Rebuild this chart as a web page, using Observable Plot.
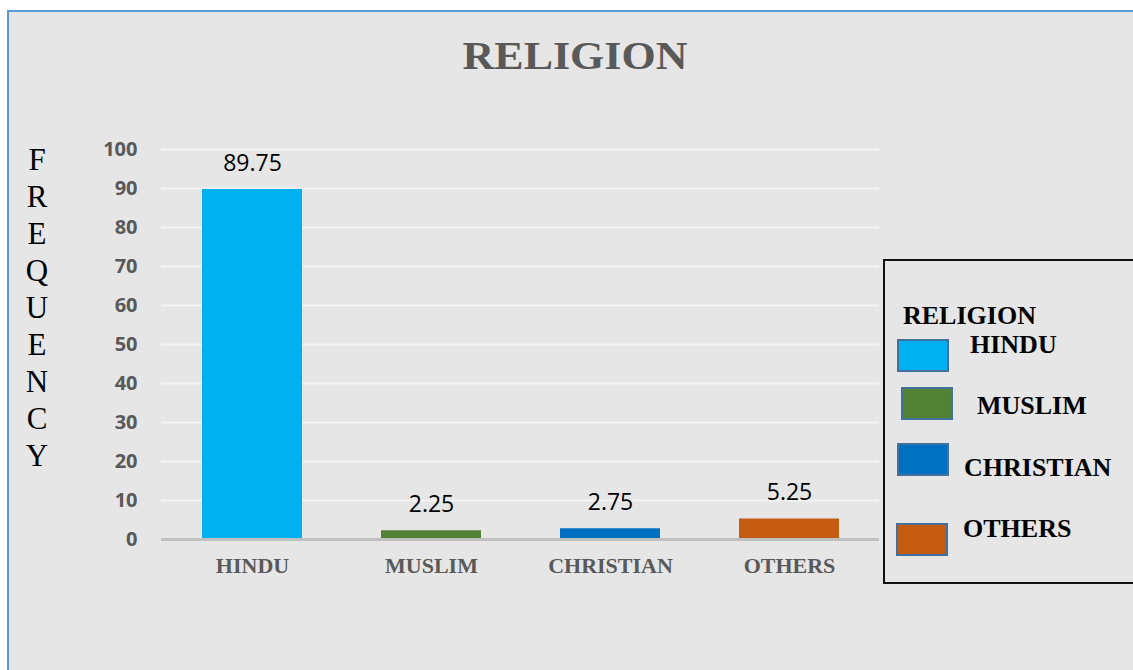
<!DOCTYPE html>
<html>
<head>
<meta charset="utf-8">
<script src="https://cdn.jsdelivr.net/npm/d3@7"></script>
<script src="https://cdn.jsdelivr.net/npm/@observablehq/plot@0.6"></script>
<style>
  html, body { margin: 0; padding: 0; background: #ffffff; }
  #frame { position: absolute; left: 7px; top: 10px; width: 1126px; height: 660px;
           background: #e6e6e6; border-left: 2px solid #5b9bd5; border-top: 2px solid #5b9bd5; box-sizing: border-box; }
  #chart { position: absolute; left: 0; top: 0; }
  .abs { position: absolute; white-space: nowrap; }
  #title { left: 0; width: 1150px; top: 32px; text-align: center; font-family: "Liberation Serif", serif;
           font-weight: bold; font-size: 40px; color: #595959; transform: scaleX(1.1); transform-origin: 575px 0; }
  #ylabel { left: 25px; top: 141px; width: 24px; text-align: center; font-family: "Liberation Serif", serif;
            font-size: 31px; line-height: 37px; color: #000; }
  #legend { left: 883px; top: 259px; width: 260px; height: 325px; border: 2px solid #111; box-sizing: border-box; }
  .lt { font-family: "Liberation Serif", serif; font-weight: bold; font-size: 26px; line-height: 26px; color: #000; }
  .sw { position: absolute; width: 52px; height: 33px; border: 2.5px solid #41719c; box-sizing: border-box; }
</style>
</head>
<body>
<div id="frame"></div>
<div id="chart"></div>
<div id="title" class="abs">RELIGION</div>
<div id="ylabel" class="abs">F<br>R<br>E<br>Q<br>U<br>E<br>N<br>C<br>Y</div>
<div id="legend" class="abs"></div>
<script>
const categories = ["HINDU", "MUSLIM", "CHRISTIAN", "OTHERS"];
const values = [89.75, 2.25, 2.75, 5.25];
const colors = ["#00b0f0", "#548235", "#0070c0", "#c55a11"];
const yTicks = [0, 10, 20, 30, 40, 50, 60, 70, 80, 90, 100];
const legendTitle = "RELIGION";

const data = categories.map((c, i) => ({category: c, value: values[i], color: colors[i]}));

const plot = Plot.plot({
  width: 1133,
  height: 670,
  marginLeft: 161,
  marginRight: 254,
  marginTop: 149,
  marginBottom: 131,
  style: { background: "transparent", overflow: "visible" },
  x: { domain: categories, paddingInner: 0.443, paddingOuter: 0.2215, label: null },
  y: { domain: [0, 100], ticks: yTicks, label: null },
  marks: [
    Plot.gridY(yTicks.filter(d => d > 0), { stroke: "#f4f4f4", strokeOpacity: 1, strokeWidth: 2 }),
    Plot.barY(data, { x: "category", y: "value", fill: d => d.color }),
    Plot.ruleY([0], { stroke: "#bfbfbf", strokeWidth: 3 }),
    Plot.text(data, { x: "category", y: "value", text: d => d.value.toFixed(2), dy: -26,
      fontSize: 23, fill: "#000", fontFamily: "Open Sans, sans-serif" }),
    Plot.axisY({ ticks: yTicks, tickSize: 0, tickPadding: 24, fontSize: 20, fontWeight: "bold",
      fill: "#595959", fontFamily: "Open Sans, sans-serif", label: null }),
    Plot.axisX({ tickSize: 0, tickPadding: 18, fontSize: 22, fontWeight: "bold",
      fill: "#595959", fontFamily: "Liberation Serif, serif", label: null })
  ]
});
document.getElementById("chart").appendChild(plot);

// Legend
const legend = document.getElementById("legend");
const lt = document.createElement("div");
lt.className = "abs lt";
lt.style.left = "18px"; lt.style.top = "42px";
lt.textContent = legendTitle;
legend.appendChild(lt);
const swPos = [[12, 78], [16, 126], [12, 182], [11, 262]];
const lbPos = [[85, 71], [92, 132], [79, 194], [78, 255]];
categories.forEach((c, i) => {
  const s = document.createElement("div");
  s.className = "sw";
  s.style.left = swPos[i][0] + "px"; s.style.top = swPos[i][1] + "px";
  s.style.background = colors[i];
  legend.appendChild(s);
  const l = document.createElement("div");
  l.className = "abs lt";
  l.style.left = lbPos[i][0] + "px"; l.style.top = lbPos[i][1] + "px";
  l.textContent = c;
  legend.appendChild(l);
});
</script>
</body>
</html>
